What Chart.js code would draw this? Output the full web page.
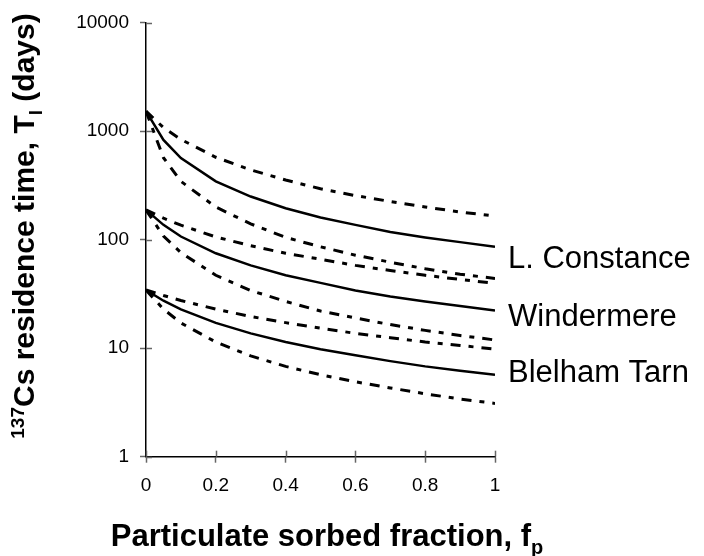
<!DOCTYPE html>
<html><head><meta charset="utf-8">
<script src="https://cdn.jsdelivr.net/npm/chart.js@4.4.0/dist/chart.umd.min.js"></script>
<style>html,body{margin:0;padding:0;background:#fff}#wrap{width:704px;height:556px}</style>
</head><body><div id="wrap"><canvas id="c" width="704" height="556"></canvas></div>
<script>
// particulate sorbed fraction (x values)
const fp = [0, 0.05, 0.1, 0.2, 0.3, 0.4, 0.5, 0.6, 0.7, 0.8, 0.9, 1];
// L. Constance
const constanceMid   = [1530, 830, 565, 345, 250, 195, 160, 137, 118, 105, 95, 86];
const constanceUpper = [1530, 1080, 840, 575, 440, 355, 295, 255, 225, 200, 180, 165];
const constanceLower = [1530, 570, 345, 200, 140, 105, 86, 72, 62, 54, 48, 44];
// Windermere
const windermereMid   = [188, 137, 107, 75, 58, 47, 40, 34, 30, 27, 24.5, 22.2];
const windermereUpper = [188, 158, 136, 106, 88, 75, 66, 58, 52, 47, 43, 39.6];
const windermereLower = [188, 108, 76, 47, 34, 27, 22, 19, 16.5, 14.6, 13.1, 11.9];
// Blelham Tarn
const blelhamMid   = [34.4, 27.4, 22.8, 17.1, 13.7, 11.4, 9.8, 8.6, 7.6, 6.8, 6.2, 5.7];
const blelhamUpper = [34.4, 30.6, 27.5, 22.9, 19.6, 17.2, 15.3, 13.7, 12.5, 11.4, 10.6, 9.8];
const blelhamLower = [34.4, 22.9, 17.1, 11.4, 8.5, 6.8, 5.7, 4.9, 4.3, 3.8, 3.4, 3.1];

const lakeNames = ["L. Constance", "Windermere", "Blelham Tarn"];
const yTickValues = [1, 10, 100, 1000, 10000];
const xTickValues = [0, 0.2, 0.4, 0.6, 0.8, 1];

const pts = arr => arr.map((v, i) => ({x: fp[i], y: v}));
const dashed = (arr) => ({data: pts(arr), borderColor: '#000', borderWidth: 3, borderDash: [10, 8, 5, 8], pointRadius: 0, tension: 0, fill: false});
const solid = (arr) => ({data: pts(arr), borderColor: '#000', borderWidth: 2.5, pointRadius: 0, tension: 0, fill: false});

const FONT = '"Liberation Sans", Arial, sans-serif';

const decor = {
  id: 'decor',
  afterDatasetsDraw(chart) {
    const ctx = chart.ctx, xs = chart.scales.x, ys = chart.scales.y, a = chart.chartArea;
    ctx.save();
    ctx.strokeStyle = '#666'; ctx.lineWidth = 1.5;
    xTickValues.forEach(v => { const p = Math.round(xs.getPixelForValue(v)) + 0.5; ctx.beginPath(); ctx.moveTo(p, a.bottom); ctx.lineTo(p, a.bottom - 6); ctx.stroke(); });
    yTickValues.forEach(v => { const p = Math.round(ys.getPixelForValue(v)) + 0.5; ctx.beginPath(); ctx.moveTo(a.left, p); ctx.lineTo(a.left + 6, p); ctx.stroke(); });
    ctx.restore();
  },
  afterDraw(chart) {
    const ctx = chart.ctx;
    ctx.save();
    ctx.fillStyle = '#000';
    // lake labels
    ctx.font = '31px ' + FONT;
    ctx.textAlign = 'left'; ctx.textBaseline = 'alphabetic';
    const ly = [267.5, 325.7, 382.4];
    lakeNames.forEach((n, i) => ctx.fillText(n, 508, ly[i]));
    // x title
    let big = 'bold 31px ' + FONT, small = 'bold 20px ' + FONT;
    const xt = [['Particulate sorbed fraction, f', big, 0], ['p', small, 8]];
    let w = 0; xt.forEach(p => { ctx.font = p[1]; w += ctx.measureText(p[0]).width; });
    let x = 327 - w / 2;
    xt.forEach(p => { ctx.font = p[1]; ctx.fillText(p[0], x, 546 + p[2]); x += ctx.measureText(p[0]).width; });
    // y title (rotated)
    big = 'bold 30px ' + FONT; small = 'bold 19px ' + FONT;
    const yt = [['137', small, -10], ['Cs residence time, T', big, 0], ['l', small, 8], [' (days)', big, 0]];
    w = 0; yt.forEach(p => { ctx.font = p[1]; w += ctx.measureText(p[0]).width; });
    ctx.translate(23, 226); ctx.rotate(-Math.PI / 2);
    x = -w / 2;
    yt.forEach(p => { ctx.font = p[1]; ctx.fillText(p[0], x, 11 + p[2]); x += ctx.measureText(p[0]).width; });
    ctx.restore();
  }
};

new Chart(document.getElementById('c'), {
  type: 'line',
  data: {
    datasets: [
      dashed(constanceUpper), dashed(constanceLower), solid(constanceMid),
      dashed(windermereUpper), dashed(windermereLower), solid(windermereMid),
      dashed(blelhamUpper), dashed(blelhamLower), solid(blelhamMid)
    ]
  },
  options: {
    responsive: false, animation: false, devicePixelRatio: 1,
    layout: {padding: {left: 0, right: 209, top: 22.7, bottom: 0}},
    plugins: {legend: {display: false}, tooltip: {enabled: false}},
    scales: {
      x: {
        type: 'linear', min: 0, max: 1,
        afterBuildTicks: s => { s.ticks = xTickValues.map(v => ({value: v})); },
        afterFit: s => { s.height = 99.3; },
        border: {display: true, color: '#000', width: 1.5},
        grid: {drawOnChartArea: false, drawTicks: true, tickLength: 6, tickColor: '#666', tickWidth: 1.5},
        ticks: {color: '#000', font: {size: 19, family: FONT}, padding: 12, maxRotation: 0,
          callback: v => String(Math.round(v * 10) / 10)}
      },
      y: {
        type: 'logarithmic', min: 1, max: 10000,
        afterBuildTicks: s => { s.ticks = yTickValues.map(v => ({value: v})); },
        afterFit: s => { s.width = 146; },
        border: {display: true, color: '#000', width: 1.5},
        grid: {drawOnChartArea: false, drawTicks: true, tickLength: 6, tickColor: '#666', tickWidth: 1.5},
        ticks: {color: '#000', font: {size: 19, family: FONT}, padding: 11,
          callback: v => String(v)}
      }
    }
  },
  plugins: [decor]
});
</script>
</body></html>
